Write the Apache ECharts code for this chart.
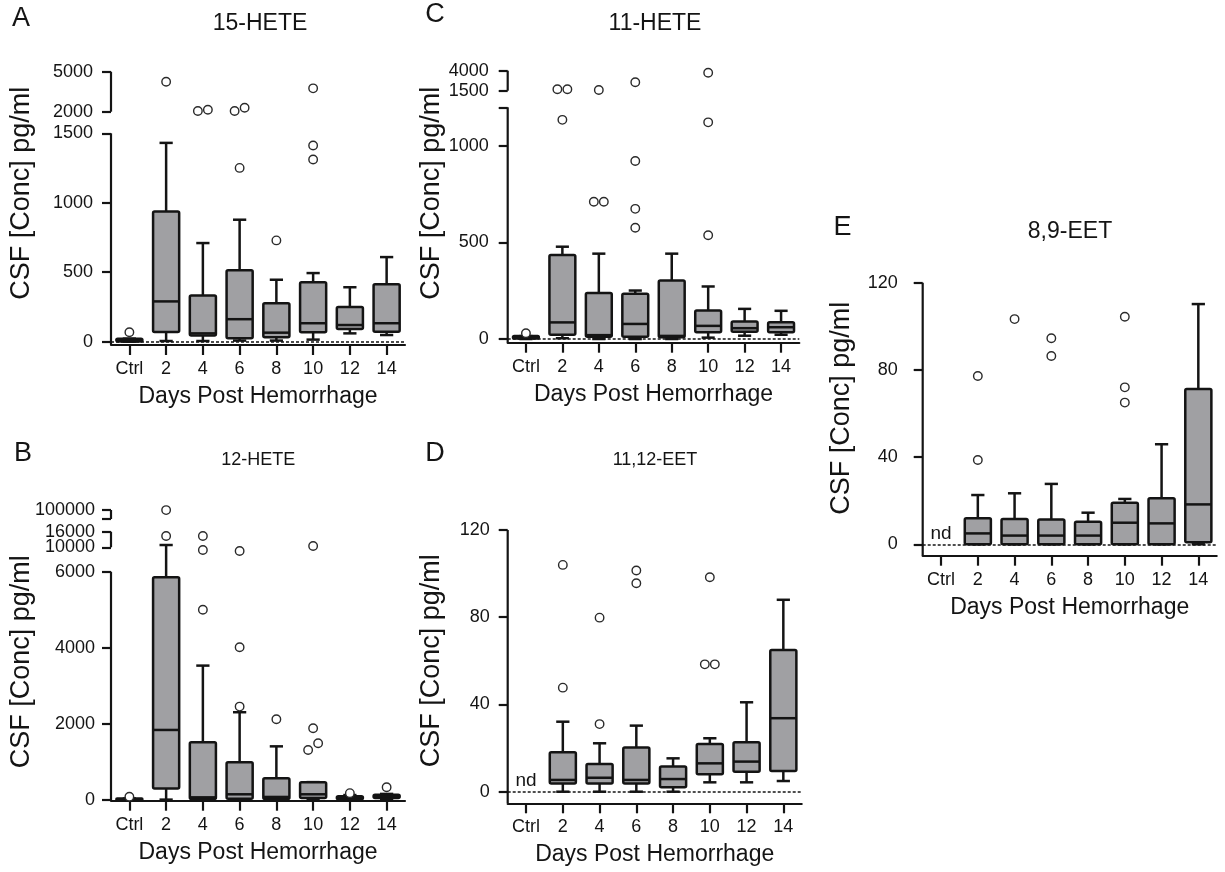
<!DOCTYPE html>
<html><head><meta charset="utf-8">
<script src="https://cdn.jsdelivr.net/npm/echarts@6/dist/echarts.min.js"></script>
<style>html,body{margin:0;padding:0;background:#fff}#c{width:1225px;height:872px}</style>
</head><body><div id="c"></div>
<script>
// ---------------- DATA ----------------
const categories = ['Ctrl', '2', '4', '6', '8', '10', '12', '14'];

// each box: [min, Q1, median, Q3, max]; null = not detected
const hete15Boxes = [[0, 2, 8, 22, 22], [5, 70, 290, 938, 1431], [5, 45, 60, 332, 710], [8, 24, 162, 514, 878],
  [8, 32, 65, 276, 446], [15, 68, 133, 428, 494], [60, 92, 120, 250, 392], [48, 72, 133, 414, 609]];
const hete15Outliers = [[68], [4250], [2050, 2150], [2300, 2050, 1251], [729], [3750, 1412, 1311], [], []];
const hete15Ticks = [0, 500, 1000, 1500, 2000, 5000];

const hete12Boxes = [[0, 5, 20, 40, 40], [10, 300, 1841, 5857, 10880], [0, 25, 70, 1517, 3532], [0, 30, 150, 991, 2307],
  [0, 25, 80, 570, 1410], [20, 50, 150, 465, 470], [0, 20, 60, 100, 130], [20, 50, 90, 140, 160]];
const hete12Outliers = [[87], [99000, 14330], [14330, 9560, 5000], [9400, 4015, 2455], [2122], [10500, 1885, 1490, 1315], [180], [334]];
const hete12Ticks = [0, 2000, 4000, 6000, 10000, 16000, 100000];

const hete11Boxes = [[0, 2, 6, 15, 15], [4, 22, 86, 435, 478], [0, 12, 20, 238, 442], [0, 12, 78, 234, 251],
  [0, 9, 16, 303, 442], [7, 35, 68, 147, 272], [17, 38, 56, 90, 156], [22, 35, 61, 87, 146]];
const hete11Outliers = [[30], [1675, 1675, 1135], [1587, 711, 711], [2550, 922, 674, 576], [], [3750, 1122, 537], [], []];
const hete11Ticks = [0, 500, 1000, 1500, 4000];

const eet1112Boxes = [null, [0, 3.8, 5.4, 18.1, 32.1], [0, 3.8, 6.4, 12.7, 22.2], [0, 3.8, 5.4, 20.3, 30.3],
  [0, 2, 5.8, 11.5, 15.3], [4.3, 8, 13, 21.9, 24.5], [4.3, 9.2, 13.8, 22.7, 41], [4.9, 9.5, 33.7, 65, 88]];
const eet1112Outliers = [[], [104, 47.7], [79.8, 31], [101.4, 95.6], [], [98.3, 58.4, 58.4], [], []];
const eetTicks = [0, 40, 80, 120];

const eet89Boxes = [null, [0, 0, 5, 11.9, 22.6], [0, 0, 4, 11.6, 23.4], [0, 0, 4, 11.4, 27.7],
  [0, 0, 4, 10.4, 14.5], [0, 0, 9.9, 19.1, 20.8], [0, 0, 9.6, 21.1, 45.9], [0, 0.9, 18.3, 71.2, 110.2]];
const eet89Outliers = [[], [77.2, 38.7], [103.3], [94.5, 86.4], [], [104.4, 72, 65], [], []];

// ---------------- LAYOUT (broken-axis segments: value range -> pixel height above zero) ----------------
const FONT = "'Liberation Sans', Arial, Helvetica, sans-serif";
const INK = '#141414';
const panels = [
  { letter: 'A', title: '15-HETE', boxes: hete15Boxes, outliers: hete15Outliers, ticks: hete15Ticks, extraTicks: [],
    left: 111, width: 294, zeroY: 341.7, axisY: 345,
    segs: [{ v: [0, 1500], d: [0, 208.4] }, { v: [2000, 5000], d: [230, 270] }],
    labelMargin: 18, zeroLine: true, titleSize: 23,
    letterPos: [21, 18.3], titlePos: [260, 23.3], yTitlePos: [21.7, 193.3] },
  { letter: 'B', title: '12-HETE', boxes: hete12Boxes, outliers: hete12Outliers, ticks: hete12Ticks, extraTicks: [20000],
    left: 111, width: 294, zeroY: 800, axisY: 800.7,
    segs: [{ v: [0, 6000], d: [0, 228.3] }, { v: [10000, 16000], d: [252.7, 268.3] }, { v: [20000, 100000], d: [281, 290] }],
    labelMargin: 16, zeroLine: false, titleSize: 18,
    letterPos: [23, 454], titlePos: [258.3, 460], yTitlePos: [21.7, 661.7] },
  { letter: 'C', title: '11-HETE', boxes: hete11Boxes, outliers: hete11Outliers, ticks: hete11Ticks, extraTicks: [1200],
    left: 507.7, width: 291.6, zeroY: 339, axisY: 342.7,
    segs: [{ v: [0, 1200], d: [0, 231.7] }, { v: [1500, 4000], d: [248.3, 268.3] }],
    labelMargin: 19, zeroLine: true, titleSize: 23,
    letterPos: [435, 15], titlePos: [655, 23.3], yTitlePos: [431.7, 193.3] },
  { letter: 'D', title: '11,12-EET', boxes: eet1112Boxes, outliers: eet1112Outliers, ticks: eetTicks, extraTicks: [],
    left: 507.7, width: 294, zeroY: 791.7, axisY: 803.3,
    segs: [{ v: [0, 120], d: [0, 261.7] }],
    labelMargin: 18, zeroLine: true, titleSize: 18,
    letterPos: [435, 454], titlePos: [655, 460], yTitlePos: [431.7, 660.8] },
  { letter: 'E', title: '8,9-EET', boxes: eet89Boxes, outliers: eet89Outliers, ticks: eetTicks, extraTicks: [],
    left: 922.7, width: 294, zeroY: 544.3, axisY: 555.7,
    segs: [{ v: [0, 120], d: [0, 261.6] }],
    labelMargin: 25, zeroLine: true, titleSize: 23,
    letterPos: [842.5, 227.5], titlePos: [1070, 231.7], yTitlePos: [842, 408.3] }
];

// piecewise-linear broken-axis scale
function toDisp(v, segs) {
  for (let i = 0; i < segs.length; i++) {
    const s = segs[i];
    if (v <= s.v[1] || i === segs.length - 1) {
      if (v >= s.v[0] || i === 0) {
        return s.d[0] + (v - s.v[0]) * (s.d[1] - s.d[0]) / (s.v[1] - s.v[0]);
      }
      const p = segs[i - 1]; // in a gap between segments
      return p.d[1] + (v - p.v[1]) * (s.d[0] - p.d[1]) / (s.v[0] - p.v[1]);
    }
  }
}

function renderBox(params, api) {
  const x = api.value(0);
  const p = [1, 2, 3, 4, 5].map(i => api.coord([x, api.value(i)]));
  const [pMin, pQ1, pMed, pQ3, pMax] = p;
  const cx = pMin[0];
  const bw = api.size([0.71, 0])[0];
  const cw = api.size([0.36, 0])[0];
  const ls = { stroke: INK, lineWidth: 2.5, fill: null };
  return { type: 'group', children: [
    { type: 'line', shape: { x1: cx, y1: pQ3[1], x2: cx, y2: pMax[1] }, style: ls },
    { type: 'line', shape: { x1: cx - cw / 2, y1: pMax[1], x2: cx + cw / 2, y2: pMax[1] }, style: ls },
    { type: 'line', shape: { x1: cx, y1: pQ1[1], x2: cx, y2: pMin[1] }, style: ls },
    { type: 'line', shape: { x1: cx - cw / 2, y1: pMin[1], x2: cx + cw / 2, y2: pMin[1] }, style: ls },
    { type: 'rect', shape: { x: cx - bw / 2, y: pQ3[1], width: bw, height: Math.max(pQ1[1] - pQ3[1], 1.5), r: 1.5 },
      style: { fill: '#a0a0a3', stroke: INK, lineWidth: 2.5 } },
    { type: 'line', shape: { x1: cx - bw / 2, y1: pMed[1], x2: cx + bw / 2, y2: pMed[1] }, style: ls }
  ] };
}

function renderAxisSeg(params, api) {
  const a = api.coord([-0.5, api.value(0)]);
  const b = api.coord([-0.5, api.value(1)]);
  return { type: 'line', shape: { x1: a[0], y1: a[1], x2: b[0], y2: b[1] }, style: { stroke: INK, lineWidth: 2.2 } };
}

const grids = [], xAxes = [], yAxes = [], series = [], graphics = [];

panels.forEach((P, i) => {
  const maxD = P.segs[P.segs.length - 1].d[1];
  const minD = -(P.axisY - P.zeroY);
  const top = P.zeroY - maxD;
  grids.push({ left: P.left, top: top, width: P.width, height: P.axisY - top });

  xAxes.push({
    gridIndex: i, type: 'value', min: -0.5, max: 7.5, position: 'bottom',
    name: 'Days Post Hemorrhage', nameLocation: 'middle', nameGap: 40,
    nameTextStyle: { fontFamily: FONT, fontSize: 23, color: INK },
    axisLine: { show: true, onZero: false, lineStyle: { color: INK, width: 2.2 } },
    axisTick: { show: true, length: 10, lineStyle: { color: INK, width: 2.2 }, customValues: categories.map((c, k) => k) },
    axisLabel: { show: true, margin: 15, fontFamily: FONT, fontSize: 18, color: INK,
      customValues: categories.map((c, k) => k), formatter: v => categories[Math.round(v)] },
    splitLine: { show: false }
  });

  const labelMap = {};
  P.ticks.forEach(t => { labelMap[toDisp(t, P.segs).toFixed(2)] = String(t); });
  yAxes.push({
    gridIndex: i, type: 'value', min: minD, max: maxD, position: 'left',
    axisLine: { show: false, onZero: false },
    axisTick: { show: true, length: 9, lineStyle: { color: INK, width: 2.2 },
      customValues: P.ticks.concat(P.extraTicks).map(t => toDisp(t, P.segs)) },
    axisLabel: { show: true, margin: P.labelMargin, fontFamily: FONT, fontSize: 18, color: INK, padding: [0, 0, 7, 0],
      customValues: P.ticks.map(t => toDisp(t, P.segs)),
      formatter: v => labelMap[Number(v).toFixed(2)] || '' },
    splitLine: { show: false }
  });

  // y-axis line pieces (broken axis)
  const segData = P.segs.map((s, k) => [k === 0 ? minD : s.d[0], s.d[1]]);
  series.push({ type: 'custom', xAxisIndex: i, yAxisIndex: i, renderItem: renderAxisSeg, data: segData, silent: true, z: 3 });

  // dotted zero line
  if (P.zeroLine) {
    series.push({ type: 'scatter', xAxisIndex: i, yAxisIndex: i, data: [], z: 1, silent: true,
      markLine: { silent: true, symbol: 'none', label: { show: false },
        lineStyle: { color: INK, width: 1.6, type: [3, 2] }, data: [{ yAxis: 0 }] } });
  }

  // boxes
  const boxData = [];
  const ndData = [];
  P.boxes.forEach((b, k) => {
    if (b) boxData.push([k].concat(b.map(v => toDisp(v, P.segs))));
    else ndData.push([k, 0]);
  });
  series.push({ type: 'custom', xAxisIndex: i, yAxisIndex: i, renderItem: renderBox, data: boxData, z: 2,
    encode: { x: 0, y: [1, 2, 3, 4, 5] } });

  if (ndData.length) {
    series.push({ type: 'scatter', xAxisIndex: i, yAxisIndex: i, data: ndData, symbolSize: 1, z: 4, silent: true,
      itemStyle: { opacity: 0 },
      label: { show: true, position: 'top', distance: 1, formatter: 'nd', fontFamily: FONT, fontSize: 19, color: INK, opacity: 1 } });
  }

  // outliers (side-by-side when they would overlap)
  const pts = [];
  P.outliers.forEach((list, k) => {
    const items = list.map(v => ({ v, d: toDisp(v, P.segs) })).sort((a, b) => a.d - b.d);
    const groups = [];
    items.forEach(it => {
      const g = groups[groups.length - 1];
      if (g && it.d - g[g.length - 1].d < 8) g.push(it); else groups.push([it]);
    });
    groups.forEach(g => g.forEach((it, j) => {
      pts.push({ value: [k, it.d], symbolOffset: [(j - (g.length - 1) / 2) * 10, 0] });
    }));
  });
  series.push({ type: 'scatter', xAxisIndex: i, yAxisIndex: i, data: pts, symbol: 'circle', symbolSize: 8.5, z: 5,
    itemStyle: { color: '#ffffff', borderColor: '#2a2a2a', borderWidth: 1.4, opacity: 1 } });

  // texts
  graphics.push({ type: 'text', x: P.letterPos[0], y: P.letterPos[1],
    style: { text: P.letter, font: '27px ' + FONT, fill: INK, textAlign: 'center', textVerticalAlign: 'middle', align: 'center', verticalAlign: 'middle' } });
  graphics.push({ type: 'text', x: P.titlePos[0], y: P.titlePos[1],
    style: { text: P.title, font: P.titleSize + 'px ' + FONT, fill: INK, textAlign: 'center', textVerticalAlign: 'middle', align: 'center', verticalAlign: 'middle' } });
  graphics.push({ type: 'text', x: P.yTitlePos[0], y: P.yTitlePos[1], rotation: Math.PI / 2,
    style: { text: 'CSF [Conc] pg/ml', font: '27px ' + FONT, fill: INK, textAlign: 'center', textVerticalAlign: 'middle', align: 'center', verticalAlign: 'middle' } });
});

const chart = echarts.init(document.getElementById('c'), null, { renderer: 'canvas' });
chart.setOption({
  backgroundColor: '#ffffff',
  animation: false,
  textStyle: { fontFamily: FONT },
  grid: grids, xAxis: xAxes, yAxis: yAxes, series: series, graphic: graphics
});
</script></body></html>
